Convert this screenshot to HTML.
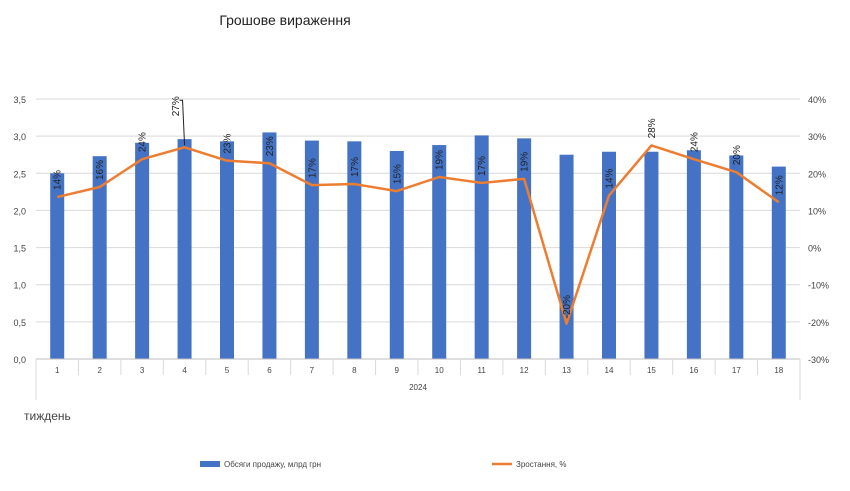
<!DOCTYPE html>
<html><head><meta charset="utf-8"><style>
body{margin:0;background:#fff;font-family:"Liberation Sans",sans-serif}
svg text{font-family:"Liberation Sans",sans-serif}
</style></head><body>
<svg id="c" width="850" height="486" xmlns="http://www.w3.org/2000/svg">
<text x="285" y="25" font-size="14" fill="#222" text-anchor="middle">Грошове вираження</text>
<g id="grid"></g><g id="bars"></g><g id="line"></g><g id="labels"></g><g id="axes"></g>
<text x="24" y="420" font-size="12" fill="#444">тиждень</text>
<g>
<rect x="200" y="461" width="20" height="6" fill="#4472c4"/>
<text x="224" y="467" font-size="8" fill="#444">Обсяги продажу, млрд грн</text>
<line x1="492" y1="464" x2="512" y2="464" stroke="#ed7d31" stroke-width="2.5"/>
<text x="516" y="467" font-size="8" fill="#444">Зростання, %</text>
</g>
</svg>
<script>
const categories=["1","2","3","4","5","6","7","8","9","10","11","12","13","14","15","16","17","18"];
const sales=[2.5,2.73,2.91,2.96,2.93,3.05,2.94,2.93,2.8,2.88,3.01,2.97,2.75,2.79,2.79,2.81,2.74,2.59];
const growth=[13.6,16.3,23.8,27,23.4,22.7,16.8,17.1,15.2,19,17.4,18.5,-20.5,14,27.5,23.8,20.3,12.2];
const leftTicks=["0,0","0,5","1,0","1,5","2,0","2,5","3,0","3,5"];
const rightTicks=["-30%","-20%","-10%","0%","10%","20%","30%","40%"];
const NS="http://www.w3.org/2000/svg";
const L=36,R=800,T=99,B=359;
const step=(R-L)/categories.length;
const x=i=>L+step*(i+0.5);
const yL=v=>B-(v/3.5)*(B-T);
const yR=v=>B-((v+30)/70)*(B-T);
function mk(t,a,p){const e=document.createElementNS(NS,t);for(const k in a)e.setAttribute(k,a[k]);p.appendChild(e);return e;}
const grid=document.getElementById('grid'),axes=document.getElementById('axes');
leftTicks.forEach((t,i)=>{const v=i*0.5,y=yL(v);
 if(i>0){const g=mk('line',{x1:L,x2:R,y1:y,y2:y,stroke:'#d9d9d9','stroke-width':1},grid);
 
 }
 const tx=mk('text',{x:26,y:y+4,'font-size':9,fill:'#444','text-anchor':'end'},axes);tx.textContent=t;
 
 
});
rightTicks.forEach((t,i)=>{const y=yR(-30+i*10);
 const tx=mk('text',{x:808,y:y+4,'font-size':9,fill:'#444'},axes);tx.textContent=t;
 
 
});
mk('line',{x1:L,x2:R,y1:B,y2:B,stroke:'#bfbfbf'},axes);
for(let i=0;i<=categories.length;i++){const xx=L+step*i;mk('line',{x1:xx,x2:xx,y1:B,y2:(i==0||i==categories.length)?400:375,stroke:'#d9d9d9'},axes);}
categories.forEach((c,i)=>{const tx=mk('text',{x:x(i),y:373,'font-size':8,fill:'#444','text-anchor':'middle'},axes);tx.textContent=c;
 
 });
const yr=mk('text',{x:(L+R)/2,y:390,'font-size':8,fill:'#444','text-anchor':'middle'},axes);yr.textContent='2024';


const bars=document.getElementById('bars');
sales.forEach((v,i)=>{const r=mk('rect',{x:x(i)-7,y:yL(v),width:14,height:B-yL(v),fill:'#4472c4'},bars);
 
 });
const pts=growth.map((v,i)=>x(i)+','+yR(v)).join(' ');
const pl=mk('polyline',{points:pts,fill:'none',stroke:'#ed7d31','stroke-width':2.5,'stroke-linejoin':'round'},document.getElementById('line'));


const lab=document.getElementById('labels');
growth.forEach((v,i)=>{let cx=x(i),cy=yR(v)-17;
 if(i===3){cx=x(i)-9;cy=yR(v)-41;mk('polyline',{points:(cx+4)+','+(cy-6)+' '+(x(i)-2)+','+(cy-6)+' '+x(i)+','+(yR(v)-2),fill:'none',stroke:'#222','stroke-width':1},lab);}
 const t=mk('text',{x:0,y:0,'font-size':10,fill:'#222','text-anchor':'middle',transform:`translate(${cx+3.5},${cy}) rotate(-90)`},lab);
 t.textContent=Math.round(v)+'%';
 
 });
</script>
</body></html>
